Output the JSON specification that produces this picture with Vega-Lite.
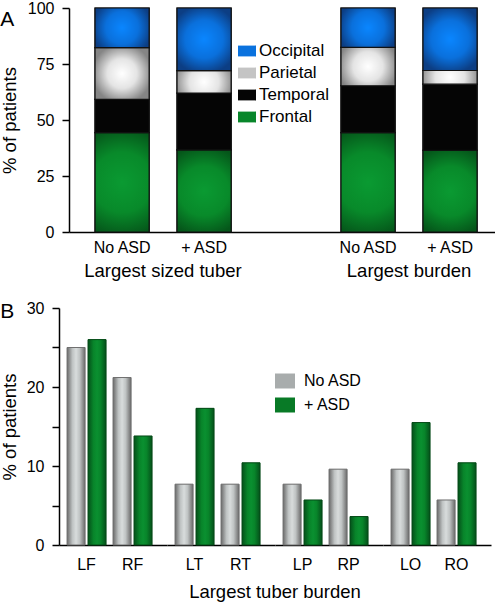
{
  "$schema": "https://vega.github.io/schema/vega-lite/v6.json",
  "padding": 0,
  "autosize": {"type": "pad"},
  "background": "white",
  "config": {
    "font": "Liberation Sans",
    "view": {"stroke": null},
    "axis": {
      "labelFont": "Liberation Sans", "labelFontSize": 16, "labelColor": "#000",
      "titleFont": "Liberation Sans", "titleFontSize": 18.5, "titleFontWeight": "normal", "titleColor": "#000",
      "domainColor": "#000", "domainWidth": 1.5, "tickColor": "#000", "tickWidth": 1.5, "tickSize": 7,
      "labelPadding": 8, "grid": false
    },
    "legend": {"labelFont": "Liberation Sans", "labelColor": "#000"},
    "title": {"font": "Liberation Sans", "fontWeight": "normal", "color": "#000"}
  },
  "columns": 1,
  "align": "none",
  "spacing": 20,
  "resolve": {"scale": {"fill": "independent"}, "legend": {"fill": "independent"}},
  "concat": [
    {
      "title": {"text": "A", "anchor": "start", "frame": "bounds", "fontSize": 21, "offset": 0, "dy": 30},
      "width": 437,
      "height": 224,
      "data": {"values": [
        {"bar": "sized_no", "measure": "Largest sized tuber", "asd": "No ASD", "lobe": "Frontal", "rank": 1, "pct": 44.4},
        {"bar": "sized_no", "measure": "Largest sized tuber", "asd": "No ASD", "lobe": "Temporal", "rank": 2, "pct": 14.8},
        {"bar": "sized_no", "measure": "Largest sized tuber", "asd": "No ASD", "lobe": "Parietal", "rank": 3, "pct": 23.1},
        {"bar": "sized_no", "measure": "Largest sized tuber", "asd": "No ASD", "lobe": "Occipital", "rank": 4, "pct": 17.7},
        {"bar": "sized_asd", "measure": "Largest sized tuber", "asd": "+ ASD", "lobe": "Frontal", "rank": 1, "pct": 36.7},
        {"bar": "sized_asd", "measure": "Largest sized tuber", "asd": "+ ASD", "lobe": "Temporal", "rank": 2, "pct": 25.3},
        {"bar": "sized_asd", "measure": "Largest sized tuber", "asd": "+ ASD", "lobe": "Parietal", "rank": 3, "pct": 10.0},
        {"bar": "sized_asd", "measure": "Largest sized tuber", "asd": "+ ASD", "lobe": "Occipital", "rank": 4, "pct": 28.0},
        {"bar": "burden_no", "measure": "Largest burden", "asd": "No ASD", "lobe": "Frontal", "rank": 1, "pct": 44.4},
        {"bar": "burden_no", "measure": "Largest burden", "asd": "No ASD", "lobe": "Temporal", "rank": 2, "pct": 20.9},
        {"bar": "burden_no", "measure": "Largest burden", "asd": "No ASD", "lobe": "Parietal", "rank": 3, "pct": 17.1},
        {"bar": "burden_no", "measure": "Largest burden", "asd": "No ASD", "lobe": "Occipital", "rank": 4, "pct": 17.6},
        {"bar": "burden_asd", "measure": "Largest burden", "asd": "+ ASD", "lobe": "Frontal", "rank": 1, "pct": 36.5},
        {"bar": "burden_asd", "measure": "Largest burden", "asd": "+ ASD", "lobe": "Temporal", "rank": 2, "pct": 29.5},
        {"bar": "burden_asd", "measure": "Largest burden", "asd": "+ ASD", "lobe": "Parietal", "rank": 3, "pct": 6.1},
        {"bar": "burden_asd", "measure": "Largest burden", "asd": "+ ASD", "lobe": "Occipital", "rank": 4, "pct": 27.9}
      ]},
      "layer": [
        {
          "mark": {"type": "bar", "stroke": "#111", "strokeWidth": 1.2},
          "encoding": {
            "x": {
              "field": "bar", "type": "nominal",
              "scale": {"domain": ["sized_no", "sized_asd", "gap", "burden_no", "burden_asd"], "paddingInner": 0.34, "paddingOuter": 0.335, "align": 0.656},
              "axis": {"title": null, "ticks": false, "labelAngle": 0, "labelPadding": 7, "domainDash": [0, 10, 2000, 0],
                       "labelExpr": "datum.value == 'gap' ? '' : (indexof(datum.value, '_no') > 0 ? 'No ASD' : '+ ASD')"}
            },
            "y": {
              "field": "pct", "type": "quantitative", "stack": "zero",
              "scale": {"domain": [0, 100], "nice": false},
              "axis": {"title": "% of patients", "titlePadding": 8, "offset": -10, "values": [0, 12.5, 25, 37.5, 50, 62.5, 75, 87.5, 100],
                       "labelExpr": "datum.value % 25 == 0 ? datum.label : ''"}
            },
            "fill": {
              "field": "lobe", "type": "nominal",
              "scale": {"domain": ["Occipital", "Parietal", "Temporal", "Frontal"], "range": ["#0a72de", "#c4c4c4", "#050505", "#08862a"]},
              "legend": {
                "title": null, "orient": "none", "legendX": 179, "legendY": 34,
                "symbolType": "M-1,-0.6H1V0.6H-1Z", "symbolSize": 324, "symbolStrokeWidth": 0,
                "labelFontSize": 17, "labelOffset": 3, "rowPadding": 5
              }
            },
            "order": {"field": "rank", "type": "quantitative"}
          }
        },
        {
          "mark": {
            "type": "bar", "stroke": "#111", "strokeWidth": 1.2,
            "fill": {"expr": "datum.lobe === 'Occipital' ? {gradient:'radial',x1:0.5,y1:0.5,r1:0,x2:0.5,y2:0.5,r2:0.55,stops:[{offset:0,color:'#0a86ff'},{offset:0.55,color:'#0a70dc'},{offset:1,color:'#0c3e84'}]} : datum.lobe === 'Parietal' ? {gradient:'radial',x1:0.5,y1:0.5,r1:0,x2:0.5,y2:0.5,r2:0.55,stops:[{offset:0,color:'#ffffff'},{offset:0.5,color:'#e4e4e4'},{offset:1,color:'#858585'}]} : datum.lobe === 'Temporal' ? '#050505' : {gradient:'radial',x1:0.5,y1:0.5,r1:0,x2:0.5,y2:0.5,r2:0.55,stops:[{offset:0,color:'#0a9a32'},{offset:0.55,color:'#088a2a'},{offset:1,color:'#05561a'}]}"}
          },
          "encoding": {
            "x": {
              "field": "bar", "type": "nominal",
              "scale": {"domain": ["sized_no", "sized_asd", "gap", "burden_no", "burden_asd"], "paddingInner": 0.34, "paddingOuter": 0.335, "align": 0.656},
              "axis": null
            },
            "y": {"field": "pct", "type": "quantitative", "stack": "zero"},
            "order": {"field": "rank", "type": "quantitative"}
          }
        },
        {
          "mark": {"type": "tick", "opacity": 0},
          "encoding": {
            "x": {
              "field": "measure", "type": "nominal",
              "scale": {"domain": ["Largest sized tuber", "Largest burden"], "paddingInner": 0.5, "paddingOuter": 0.138, "align": 0.625},
              "axis": {"orient": "bottom", "offset": 22, "domain": false, "ticks": false, "labelAngle": 0, "labelFontSize": 18.5, "labelPadding": 7, "title": null}
            }
          }
        }
      ],
      "resolve": {"scale": {"x": "independent"}, "axis": {"x": "independent"}}
    },
    {
      "title": {"text": "B", "anchor": "start", "frame": "bounds", "fontSize": 21, "offset": 0, "dy": 22},
      "data": {"values": [
        {"lobe": "Frontal", "region": "LF", "asd": "No ASD", "pct": 25.0},
        {"lobe": "Frontal", "region": "LF", "asd": "+ ASD", "pct": 26.0},
        {"lobe": "Frontal", "region": "RF", "asd": "No ASD", "pct": 21.2},
        {"lobe": "Frontal", "region": "RF", "asd": "+ ASD", "pct": 13.8},
        {"lobe": "Temporal", "region": "LT", "asd": "No ASD", "pct": 7.7},
        {"lobe": "Temporal", "region": "LT", "asd": "+ ASD", "pct": 17.3},
        {"lobe": "Temporal", "region": "RT", "asd": "No ASD", "pct": 7.7},
        {"lobe": "Temporal", "region": "RT", "asd": "+ ASD", "pct": 10.4},
        {"lobe": "Parietal", "region": "LP", "asd": "No ASD", "pct": 7.7},
        {"lobe": "Parietal", "region": "LP", "asd": "+ ASD", "pct": 5.7},
        {"lobe": "Parietal", "region": "RP", "asd": "No ASD", "pct": 9.6},
        {"lobe": "Parietal", "region": "RP", "asd": "+ ASD", "pct": 3.6},
        {"lobe": "Occipital", "region": "LO", "asd": "No ASD", "pct": 9.6},
        {"lobe": "Occipital", "region": "LO", "asd": "+ ASD", "pct": 15.5},
        {"lobe": "Occipital", "region": "RO", "asd": "No ASD", "pct": 5.7},
        {"lobe": "Occipital", "region": "RO", "asd": "+ ASD", "pct": 10.4}
      ]},
      "facet": {
        "column": {
          "field": "lobe", "type": "nominal", "sort": ["Frontal", "Temporal", "Parietal", "Occipital"],
          "header": {"labels": false, "title": "Largest tuber burden", "titleOrient": "bottom", "titleFontSize": 18.5, "titleFontWeight": "normal", "titleColor": "#000", "titleFont": "Liberation Sans", "titlePadding": 1}
        }
      },
      "spacing": 0,
      "spec": {
        "width": 108,
        "height": 237,
        "encoding": {
          "x": {"field": "region", "type": "nominal", "scale": {"paddingInner": 0.152, "paddingOuter": 0.25, "align": 0.35},
                "axis": {"title": null, "ticks": false, "labelAngle": 0, "labelPadding": 11}},
          "xOffset": {"field": "asd", "type": "nominal", "scale": {"domain": ["No ASD", "+ ASD"], "paddingInner": 0.14}},
          "y": {
            "field": "pct", "type": "quantitative",
            "scale": {"domain": [0, 30], "nice": false},
            "axis": {"title": "% of patients", "titlePadding": 7, "values": [0, 5, 10, 15, 20, 25, 30],
                     "labelExpr": "datum.value % 10 == 0 ? datum.label : ''"}
          }
        },
        "layer": [
          {
            "mark": {"type": "bar"},
            "encoding": {
              "fill": {
                "field": "asd", "type": "nominal",
                "scale": {"domain": ["No ASD", "+ ASD"], "range": ["#a8acac", "#087a26"]},
                "legend": {
                  "title": null, "orient": "none", "legendX": 216, "legendY": 63,
                  "symbolType": "M-1,-0.75H1V0.75H-1Z", "symbolSize": 400, "symbolStrokeWidth": 0,
                  "labelFontSize": 16, "labelOffset": 9, "rowPadding": 6
                }
              }
            }
          },
          {
            "mark": {
              "type": "bar", "strokeWidth": 1,
              "fill": {"expr": "datum.asd === 'No ASD' ? {gradient:'linear',x1:0,y1:0,x2:1,y2:0,stops:[{offset:0,color:'#6a6a6a'},{offset:0.3,color:'#bfc3c3'},{offset:0.5,color:'#d8dcdc'},{offset:0.7,color:'#bfc3c3'},{offset:1,color:'#6a6a6a'}]} : {gradient:'linear',x1:0,y1:0,x2:1,y2:0,stops:[{offset:0,color:'#04501a'},{offset:0.3,color:'#08842a'},{offset:0.5,color:'#0a9030'},{offset:0.7,color:'#08842a'},{offset:1,color:'#04501a'}]}"},
              "stroke": {"expr": "datum.asd === 'No ASD' ? '#707070' : '#064a18'"}
            }
          }
        ]
      },
      "resolve": {"scale": {"x": "independent", "xOffset": "independent"}}
    }
  ]
}
